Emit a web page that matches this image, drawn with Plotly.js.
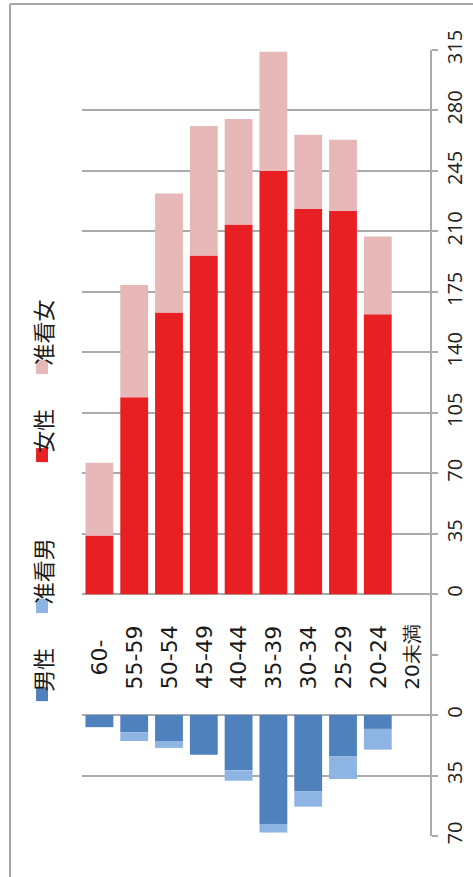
<!DOCTYPE html>
<html>
<head>
<meta charset="utf-8">
<script src="https://cdn.plot.ly/plotly-3.0.1.min.js"></script>
<style>
html,body{margin:0;padding:0;background:#fff;}
#chart{width:473px;height:877px;}
</style>
</head>
<body>
<div id="chart"></div>
<script>
// ---- data ----
const categories = ["60-", "55-59", "50-54", "45-49", "40-44", "35-39", "30-34", "25-29", "20-24", "20未満"];
const femaleRegular = [34, 114, 163, 196, 214, 245, 223, 222, 162, 0];   // 女性
const femaleAssoc   = [42, 65, 69, 75, 61, 69, 43, 41, 45, 0];          // 准看女
const maleRegular   = [7, 10, 15, 23, 32, 63, 44, 24, 8, 0];            // 男性
const maleAssoc     = [0, 5, 4, 0, 6, 5, 9, 13, 12, 0];                 // 准看男
const seriesNames   = ["男性", "准看男", "女性", "准看女"];
const femaleTicks   = [0, 35, 70, 105, 140, 175, 210, 245, 280, 315];
const maleTicks     = [0, 35, 70];

// ---- layout constants ----
const MALE_OFFSET = 70;           // male bars start below a 70-unit gap
const colors = {male: "#4f81bd", maleA: "#8eb4e3", female: "#e81f23", femaleA: "#e6b9b8"};
const gridColor = "#ababab";

const maleBase = maleRegular.map(() => -MALE_OFFSET);
const maleABase = maleRegular.map(v => -MALE_OFFSET - v);
const femaleABase = femaleRegular.slice();

const traces = [
  {type: "bar", name: seriesNames[0], x: categories, y: maleRegular.map(v => -v), base: maleBase,
   marker: {color: colors.male}, hoverinfo: "skip"},
  {type: "bar", name: seriesNames[1], x: categories, y: maleAssoc.map(v => -v), base: maleABase,
   marker: {color: colors.maleA}, hoverinfo: "skip"},
  {type: "bar", name: seriesNames[2], x: categories, y: femaleRegular, base: categories.map(() => 0),
   marker: {color: colors.female}, hoverinfo: "skip"},
  {type: "bar", name: seriesNames[3], x: categories, y: femaleAssoc, base: femaleABase,
   marker: {color: colors.femaleA}, hoverinfo: "skip"}
];

const tickvals = maleTicks.slice().reverse().map(v => -MALE_OFFSET - v).concat(femaleTicks);
const ticktext = maleTicks.slice().reverse().map(String).concat(femaleTicks.map(String));

const annotations = categories.map((c, i) => ({
  xref: "x", yref: "y", x: c, y: -MALE_OFFSET / 2 - 1.5,
  xanchor: "center", yanchor: "middle",
  text: c, showarrow: false, textangle: -90,
  font: {family: "DejaVu Sans", size: i === categories.length - 1 ? 20 : 22, color: "#1a1a1a"}
}));

// legend (rotated, drawn as text + squares)
const legendItems = [
  {name: seriesNames[3], color: colors.femaleA, ty: 0.6405, sy: [0.5877, 0.6055]},
  {name: seriesNames[2], color: colors.female,  ty: 0.5157, sy: [0.4757, 0.4935]},
  {name: seriesNames[1], color: colors.maleA,   ty: 0.3369, sy: [0.2836, 0.3014]},
  {name: seriesNames[0], color: colors.male,    ty: 0.2115, sy: [0.1716, 0.1894]}
];
legendItems.forEach(it => {
  annotations.push({xref: "paper", yref: "paper", x: -0.1149, y: it.ty, text: it.name,
    xanchor: "center", yanchor: "middle",
    showarrow: false, textangle: -90,
    font: {family: "Noto Sans CJK JP", size: 22, color: "#1a1a1a"}});
});
const shapes = legendItems.map(it => ({
  type: "rect", xref: "paper", yref: "paper", x0: -0.132, x1: -0.0977, y0: it.sy[0], y1: it.sy[1],
  fillcolor: it.color, line: {width: 0}
}));
// outer chart border (top and left edges visible)
shapes.push({type: "line", xref: "paper", yref: "paper", x0: -0.2069, x1: 1.3, y0: 1.0586, y1: 1.0586,
  line: {color: "#a6a6a6", width: 2}});
shapes.push({type: "line", xref: "paper", yref: "paper", x0: -0.2069, x1: -0.2069, y0: -0.1, y1: 1.0586,
  line: {color: "#a6a6a6", width: 2}});

const layout = {
  width: 473, height: 877,
  margin: {l: 82, r: 43, t: 50, b: 41, pad: 0},
  paper_bgcolor: "#fff", plot_bgcolor: "#fff",
  barmode: "overlay", bargap: 0.2,
  showlegend: false,
  xaxis: {type: "category", range: [-0.5, categories.length - 0.5], showticklabels: false,
    showgrid: false, zeroline: false, showline: false, ticks: "", fixedrange: true},
  yaxis: {range: [-140, 315], side: "right", tickmode: "array", tickvals: tickvals, ticktext: ticktext,
    tickangle: -90, ticks: "outside", ticklen: 6, tickwidth: 2, tickcolor: gridColor,
    showline: true, linecolor: gridColor, linewidth: 2,
    showgrid: true, gridcolor: gridColor, gridwidth: 2, zeroline: false,
    minor: {tickmode: "array", tickvals: [-MALE_OFFSET / 2], ticks: "outside", ticklen: 6, tickwidth: 2,
      tickcolor: gridColor, showgrid: false},
    tickfont: {family: "Open Sans", size: 20, color: "#222"}, fixedrange: true},
  annotations: annotations,
  shapes: shapes
};

Plotly.newPlot("chart", traces, layout, {displayModeBar: false, staticPlot: true});
</script>
</body>
</html>
